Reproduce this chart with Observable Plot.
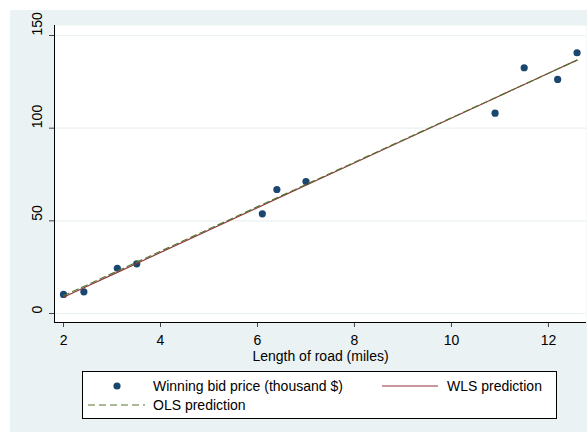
<!DOCTYPE html>
<html>
<head>
<meta charset="utf-8">
<script src="https://cdn.jsdelivr.net/npm/d3@7"></script>
<script src="https://cdn.jsdelivr.net/npm/@observablehq/plot@0.6"></script>
<style>
  html, body { margin: 0; padding: 0; background: #ffffff; }
  body { width: 587px; height: 432px; position: relative; overflow: hidden;
         font-family: Arial, "Liberation Sans", sans-serif; }
  #bg { position: absolute; left: 10px; top: 10px; width: 577px; height: 422px; background: #eaf2f3; }
  #chart { position: absolute; left: 0; top: 0; }
  #legend { position: absolute; left: 72px; top: 361px; width: 473px; height: 46px;
            background: #ffffff; border: 1px solid #000; }
  #legend svg { display: block; }
</style>
</head>
<body>
<div id="bg">
  <div id="chart"></div>
  <div id="legend"></div>
</div>
<script>
// Length of road (miles) and winning bid price (thousand $)
const roadMiles  = [2.0, 2.42, 3.11, 3.51, 6.10, 6.40, 7.0, 10.9, 11.5, 12.19, 12.59];
const winningBid = [10.3, 11.7, 24.4, 26.8, 53.8, 66.9, 71.2, 108.1, 132.6, 126.3, 140.7];
// Fitted values
const wlsPred = [8.8, 13.9, 22.2, 27.0, 58.3, 62.0, 69.2, 116.3, 123.6, 131.9, 136.7];
const olsPred = [9.6, 14.6, 22.9, 27.7, 58.8, 62.4, 69.6, 116.4, 123.6, 131.9, 136.7];
const xTicks = [2, 4, 6, 8, 10, 12];
const yTicks = [0, 50, 100, 150];
const xTitle = "Length of road (miles)";
const legendLabels = ["Winning bid price (thousand $)", "WLS prediction", "OLS prediction"];

const colBid = "#1a476f", colWls = "#90353b", colOls = "#55752f";
const font = 'Arial, "Liberation Sans", sans-serif';

const data = roadMiles.map((x, i) => ({x, bid: winningBid[i], wls: wlsPred[i], ols: olsPred[i]}));
const xDom = [1.814, 12.785], yDom = [-4.86, 155.4];

const chart = Plot.plot({
  width: 577,
  height: 355,
  marginTop: 15,
  marginLeft: 44,
  marginRight: 1,
  marginBottom: 43,
  style: {background: "transparent", fontFamily: font, fontSize: "14px", color: "#000", overflow: "visible"},
  x: {domain: xDom},
  y: {domain: yDom},
  marks: [
    Plot.frame({fill: "#ffffff", stroke: null}),
    Plot.gridY(yTicks, {stroke: "#eaf2f3", strokeOpacity: 1, strokeWidth: 1.2}),
    Plot.axisX(xTicks, {tickSize: 5, tickPadding: 8, label: null, fontSize: 14, stroke: "#444"}),
    Plot.axisY(yTicks, {tickSize: 5, tickFormat: () => "", label: null, stroke: "#444"}),
    Plot.text(yTicks, {y: d => d, text: d => String(d), frameAnchor: "left", dx: -17, rotate: -90, fontSize: 14, fill: "#000"}),
    Plot.ruleX([xDom[0]], {stroke: "#000", strokeWidth: 1}),
    Plot.ruleY([yDom[0]], {stroke: "#000", strokeWidth: 1}),
    Plot.dot(data, {x: "x", y: "bid", r: 3.6, fill: colBid, stroke: null}),
    Plot.line(data, {x: "x", y: "wls", stroke: colWls, strokeWidth: 1.2}),
    Plot.line(data, {x: "x", y: "ols", stroke: colOls, strokeWidth: 1.2, strokeDasharray: "6,4"}),
    Plot.text([xTitle], {frameAnchor: "bottom", dy: 34, lineAnchor: "middle", fontSize: 14, fill: "#000"})
  ]
});
document.getElementById("chart").appendChild(chart);

// Legend
const lg = d3.select("#legend").append("svg").attr("width", 473).attr("height", 46)
  .style("font-family", font).style("font-size", "14px");
lg.append("circle").attr("cx", 34).attr("cy", 14).attr("r", 3.6).attr("fill", colBid);
lg.append("text").attr("x", 70).attr("y", 14).attr("dy", "0.35em").text(legendLabels[0]);
lg.append("line").attr("x1", 299).attr("x2", 355).attr("y1", 14).attr("y2", 14)
  .attr("stroke", colWls).attr("stroke-width", 1.2);
lg.append("text").attr("x", 364).attr("y", 14).attr("dy", "0.35em").text(legendLabels[1]);
lg.append("line").attr("x1", 5).attr("x2", 62).attr("y1", 33).attr("y2", 33)
  .attr("stroke", colOls).attr("stroke-width", 1.2).attr("stroke-dasharray", "7,4");
lg.append("text").attr("x", 70).attr("y", 33).attr("dy", "0.35em").text(legendLabels[2]);
</script>
</body>
</html>
